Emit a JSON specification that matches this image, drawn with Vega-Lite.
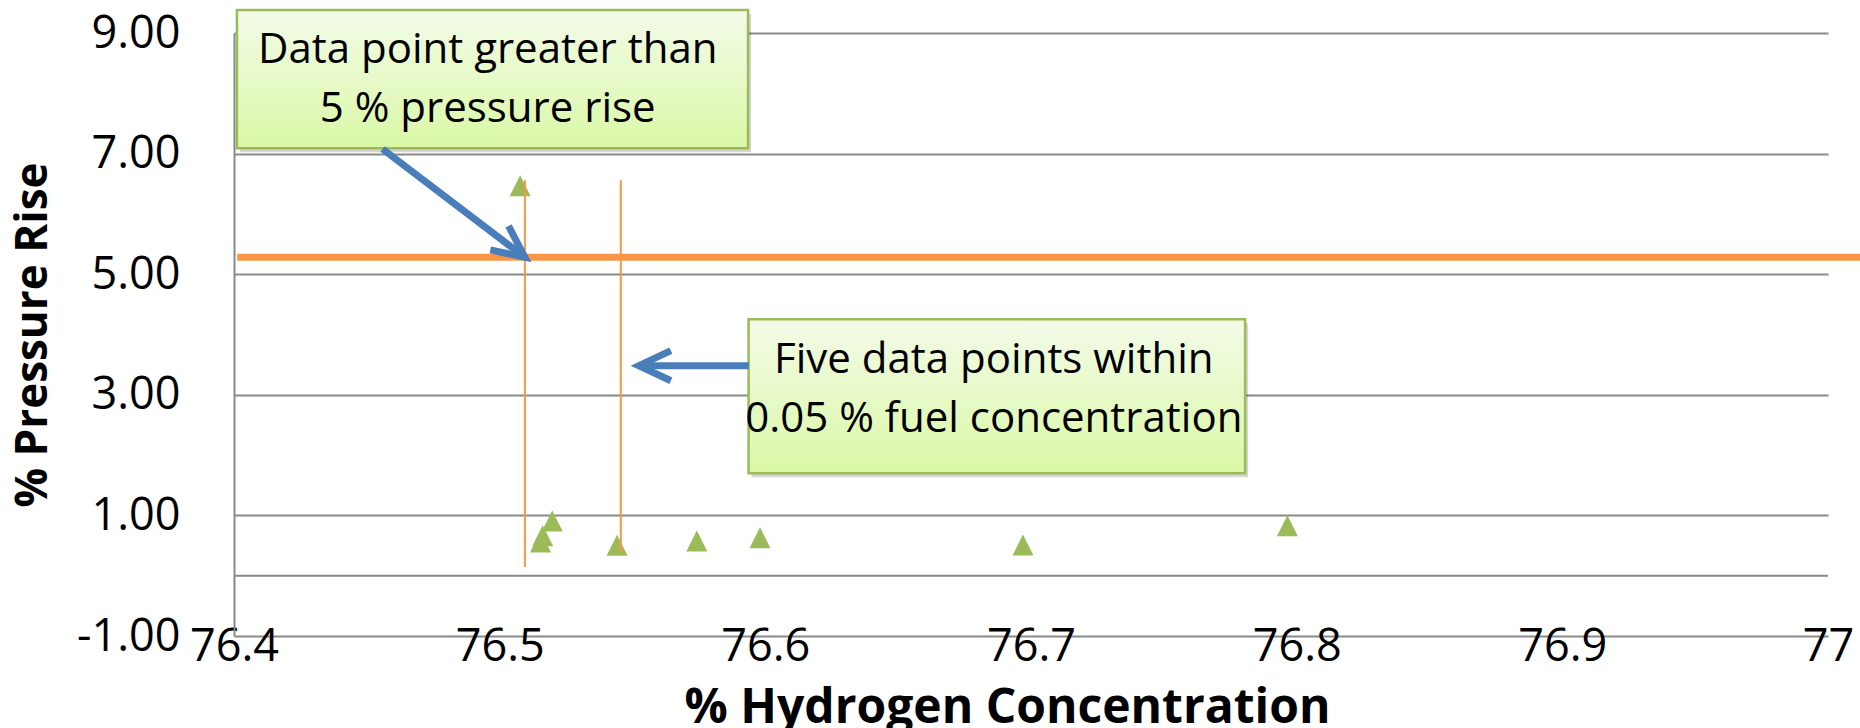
{
  "$schema": "https://vega.github.io/schema/vega-lite/v6.json",
  "width": 1594,
  "height": 603,
  "autosize": {"type": "none"},
  "padding": {"left": 234, "top": 33, "right": 32, "bottom": 92},
  "background": "white",
  "config": {"view": {"stroke": null}},
  "datasets": {
    "points": [
      {"h2": 76.5077, "rise": 6.466},
      {"h2": 76.5198, "rise": 0.907},
      {"h2": 76.5162, "rise": 0.663},
      {"h2": 76.5154, "rise": 0.559},
      {"h2": 76.5442, "rise": 0.504},
      {"h2": 76.5742, "rise": 0.575},
      {"h2": 76.598, "rise": 0.63},
      {"h2": 76.697, "rise": 0.51},
      {"h2": 76.7965, "rise": 0.83}
    ],
    "vlines": [
      {"h2": 76.5095, "rise": 6.56, "rise2": 0.144},
      {"h2": 76.5456, "rise": 6.56, "rise2": 0.393}
    ],
    "threshold": [{"h2": 76.4012, "h2b": 77.013, "rise": 5.28}],
    "zero": [{"h2": 76.4, "h2b": 77, "rise": 0}],
    "boxes": [
      {"h2": 76.4011, "h2b": 76.5935, "rise": 9.381, "rise2": 7.088},
      {"h2": 76.5937, "h2b": 76.7806, "rise": 4.252, "rise2": 1.698}
    ],
    "labels": [
      {"h2": 76.4955, "rise": 8.497, "text": "Data point greater than"},
      {"h2": 76.4955, "rise": 7.529, "text": "5 % pressure rise"},
      {"h2": 76.686, "rise": 3.357, "text": "Five data points within"},
      {"h2": 76.686, "rise": 2.388, "text": "0.05 % fuel concentration"}
    ],
    "arrows": [
      {"id": "a1", "h2": 76.4559, "rise": 7.076, "h2b": 76.5095, "rise2": 5.28},
      {"id": "a2", "h2": 76.5938, "rise": 3.483, "h2b": 76.5524, "rise2": 3.483}
    ]
  },
  "encoding": {
    "x": {
      "field": "h2", "type": "quantitative",
      "scale": {"domain": [76.4, 77], "nice": false, "zero": false},
      "axis": {
        "values": [76.4, 76.5, 76.6, 76.7, 76.8, 76.9, 77],
        "format": ".1~f",
        "grid": false, "domain": false, "ticks": false,
        "labelPadding": 24, "labelBaseline": "alphabetic",
        "labelFont": "Open Sans", "labelFontSize": 45, "labelColor": "#000",
        "labelFlush": false, "labelOverlap": false,
        "titleFont": "Open Sans", "titleFontWeight": "bold", "titleFontSize": 48, "titleColor": "#000",
        "titleX": 773, "titleY": 86, "titleBaseline": "alphabetic"
      },
      "title": "% Hydrogen Concentration"
    },
    "y": {
      "field": "rise", "type": "quantitative",
      "scale": {"domain": [-1, 9], "nice": false, "zero": false},
      "axis": {
        "values": [-1, 1, 3, 5, 7, 9],
        "format": ".2f",
        "labelExpr": "replace(datum.label, '\u2212', '-')",
        "grid": true, "gridColor": "#898989", "gridWidth": 2,
        "domain": true, "domainColor": "#898989", "domainWidth": 2,
        "ticks": false, "labelPadding": 54,
        "labelFont": "Open Sans", "labelFontSize": 45, "labelColor": "#000",
        "labelFlush": false, "labelOverlap": false,
        "titleFont": "Open Sans", "titleFontWeight": "bold", "titleFontSize": 44, "titleColor": "#000",
        "titleX": -201, "titleY": 301.5, "titleBaseline": "middle", "titleAngle": -90
      },
      "title": "% Pressure Rise"
    }
  },
  "layer": [
    {
      "data": {"name": "points"},
      "mark": {"type": "point", "shape": "M0,-1L1,1L-1,1Z", "filled": true, "color": "#9BBB59", "size": 441, "opacity": 1}
    },
    {
      "data": {"name": "zero"},
      "mark": {"type": "rule", "color": "#898989", "strokeWidth": 2},
      "encoding": {"x2": {"field": "h2b"}}
    },
    {
      "data": {"name": "vlines"},
      "mark": {"type": "rule", "color": "#F79646", "strokeWidth": 2},
      "encoding": {"y2": {"field": "rise2"}}
    },
    {
      "data": {"name": "threshold"},
      "mark": {"type": "rule", "color": "#F79646", "strokeWidth": 7},
      "encoding": {"x2": {"field": "h2b"}}
    },
    {
      "data": {"name": "boxes"},
      "mark": {"type": "rect", "fill": "#000000", "opacity": 0.16, "xOffset": 3, "x2Offset": 3, "yOffset": 4, "y2Offset": 4},
      "encoding": {"x2": {"field": "h2b"}, "y2": {"field": "rise2"}}
    },
    {
      "data": {"name": "boxes"},
      "mark": {
        "type": "rect",
        "fill": {"gradient": "linear", "x1": 0, "y1": 0, "x2": 0, "y2": 1,
          "stops": [{"offset": 0, "color": "#F3FBE8"}, {"offset": 1, "color": "#DAF8A6"}]},
        "stroke": "#9BBB59", "strokeWidth": 2.5
      },
      "encoding": {"x2": {"field": "h2b"}, "y2": {"field": "rise2"}}
    },
    {
      "data": {"name": "arrows"},
      "mark": {"type": "rule", "color": "#4A7EBB", "strokeWidth": 7},
      "encoding": {"x2": {"field": "h2b"}, "y2": {"field": "rise2"}}
    },
    {
      "data": {"name": "arrows"},
      "transform": [{"filter": "datum.id == 'a1'"}],
      "mark": {"type": "point", "shape": "M-1,-0.47L0,0L-1,0.47", "filled": false, "color": "#4A7EBB", "strokeWidth": 7, "size": 4096, "angle": 37.2, "opacity": 1, "strokeJoin": "miter"},
      "encoding": {
        "x": {"field": "h2b", "type": "quantitative"},
        "y": {"field": "rise2", "type": "quantitative"}
      }
    },
    {
      "data": {"name": "arrows"},
      "transform": [{"filter": "datum.id == 'a2'"}],
      "mark": {"type": "point", "shape": "M-1,-0.47L0,0L-1,0.47", "filled": false, "color": "#4A7EBB", "strokeWidth": 7, "size": 4096, "angle": 180, "opacity": 1, "strokeJoin": "miter"},
      "encoding": {
        "x": {"field": "h2b", "type": "quantitative"},
        "y": {"field": "rise2", "type": "quantitative"}
      }
    },
    {
      "data": {"name": "labels"},
      "mark": {"type": "text", "font": "Open Sans", "fontSize": 42, "align": "center", "baseline": "alphabetic", "color": "#000"},
      "encoding": {"text": {"field": "text"}}
    }
  ]
}
